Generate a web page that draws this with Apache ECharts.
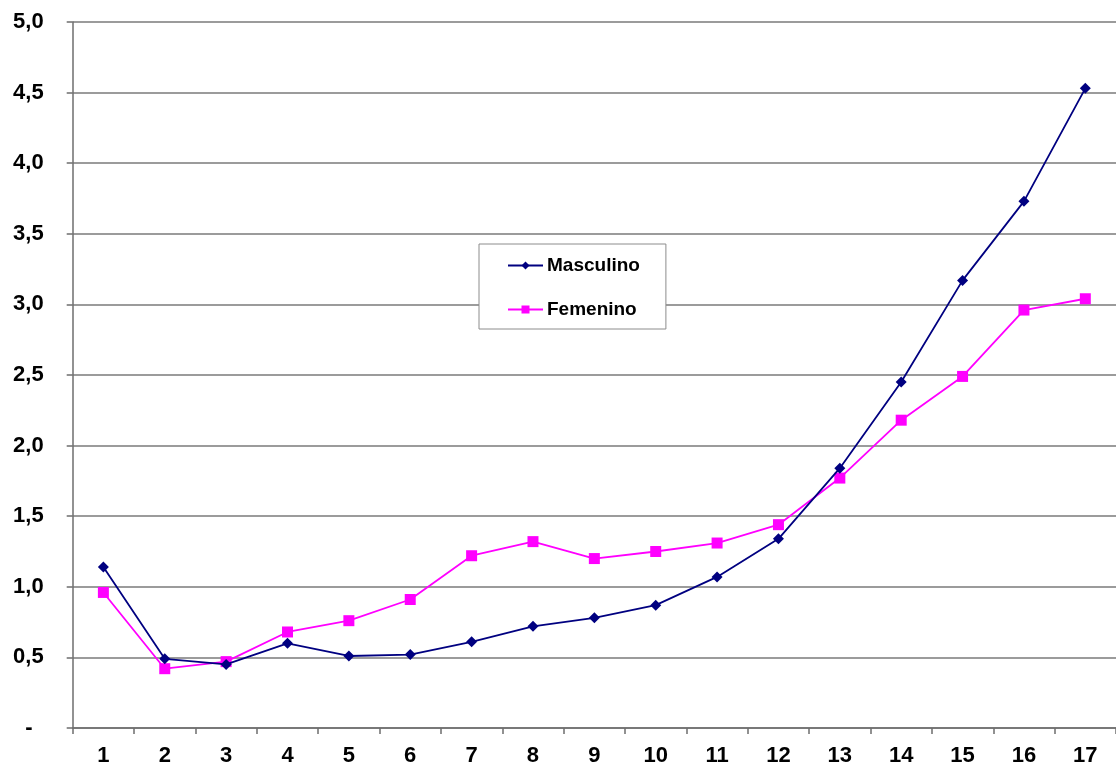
<!DOCTYPE html>
<html>
<head>
<meta charset="utf-8">
<script src="https://cdn.jsdelivr.net/npm/echarts@6/dist/echarts.min.js"></script>
<style>html,body{margin:0;padding:0;background:#fff;}#c{width:1116px;height:768px;}</style>
</head>
<body>
<div id="c"></div>
<script>
const categories = ['1','2','3','4','5','6','7','8','9','10','11','12','13','14','15','16','17'];
const masculino = [1.14, 0.49, 0.45, 0.60, 0.51, 0.52, 0.61, 0.72, 0.78, 0.87, 1.07, 1.34, 1.84, 2.45, 3.17, 3.73, 4.53];
const femenino = [0.96, 0.42, 0.47, 0.68, 0.76, 0.91, 1.22, 1.32, 1.20, 1.25, 1.31, 1.44, 1.77, 2.18, 2.49, 2.96, 3.04];
const seriesNames = ['Masculino', 'Femenino'];

const chart = echarts.init(document.getElementById('c'), null, {renderer: 'canvas'});
const font = 'Liberation Sans, Arial, sans-serif';
chart.setOption({
  animation: false,
  backgroundColor: '#ffffff',
  grid: {left: 72.7, right: -9, top: 22, bottom: 40, containLabel: false},
  legend: {
    orient: 'vertical',
    left: 479, top: 244,
    padding: [12, 26, 10, 28],
    itemGap: 25,
    itemWidth: 35, itemHeight: 10,
    backgroundColor: '#ffffff',
    borderColor: '#8c8c8c', borderWidth: 1,
    textStyle: {fontFamily: font, fontWeight: 'bold', fontSize: 19, color: '#000', padding: [0, 0, 0, -1]},
    data: seriesNames
  },
  xAxis: {
    type: 'category',
    data: categories,
    boundaryGap: true,
    axisLine: {lineStyle: {color: '#6e6e6e', width: 1.5}},
    axisTick: {show: true, interval: 0, length: 6, lineStyle: {color: '#6e6e6e', width: 1.5}},
    axisLabel: {interval: 0, margin: 17, fontFamily: font, fontWeight: 'bold', fontSize: 22, color: '#000'},
    splitLine: {show: false}
  },
  yAxis: {
    type: 'value',
    min: 0, max: 5, interval: 0.5,
    axisLine: {show: true, lineStyle: {color: '#6e6e6e', width: 1.5}},
    axisTick: {show: true, length: 6, lineStyle: {color: '#6e6e6e', width: 1.5}},
    axisLabel: {
      margin: 29, fontFamily: font, fontWeight: 'bold', fontSize: 22, color: '#000',
      formatter: v => v === 0 ? '{d|-}' : v.toFixed(1).replace('.', ','),
      rich: {d: {fontFamily: font, fontWeight: 'bold', fontSize: 22, color: '#000', padding: [0, 11, 0, 0]}}
    },
    splitLine: {show: true, lineStyle: {color: '#7a7a7a', width: 1.5}}
  },
  series: [
    {
      name: seriesNames[0], type: 'line', data: masculino,
      symbol: 'diamond', symbolSize: 11,
      lineStyle: {color: '#000080', width: 1.8},
      itemStyle: {color: '#000080'},
      z: 3
    },
    {
      name: seriesNames[1], type: 'line', data: femenino,
      symbol: 'rect', symbolSize: 11,
      lineStyle: {color: '#ff00ff', width: 1.8},
      itemStyle: {color: '#ff00ff'},
      z: 2
    }
  ]
});
</script>
</body>
</html>
